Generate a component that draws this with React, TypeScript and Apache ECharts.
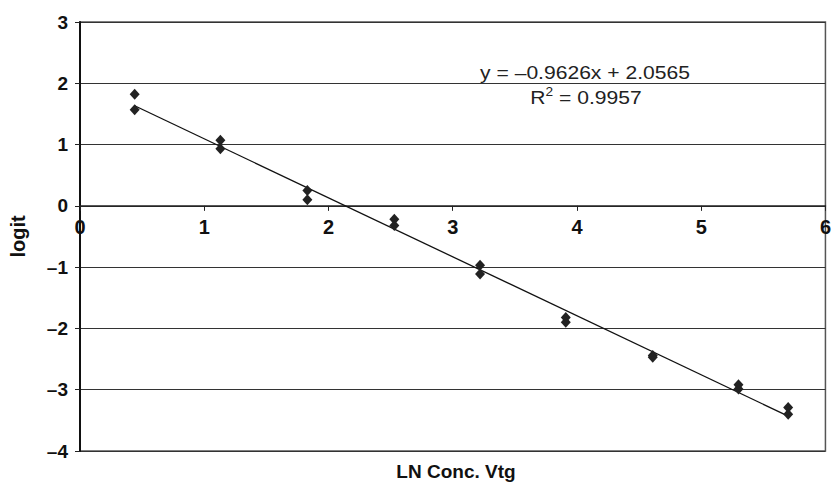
import React, { useEffect, useRef } from "react";
import * as echarts from "echarts";

const lnConc = [0.44, 1.13, 1.83, 2.53, 3.22, 3.91, 4.61, 5.3, 5.7];
const logitA = [1.82, 1.07, 0.25, -0.22, -0.97, -1.82, -2.44, -2.92, -3.29];
const logitB = [1.57, 0.93, 0.1, -0.32, -1.11, -1.9, -2.47, -2.99, -3.4];
const slope = -0.9626;
const intercept = 2.0565;
const eqLine1 = "y = –0.9626x + 2.0565";
const eqLine2 = "R{sup|2} = 0.9957";
const xName = "LN Conc. Vtg";
const yName = "logit";
const yMin = -4;
const yMax = 3;

const FONT = "'Liberation Sans', Arial, Helvetica, sans-serif";

export default function App() {
  const ref = useRef<HTMLDivElement>(null);
  useEffect(() => {
    if (!ref.current) return;
    const chart = echarts.init(ref.current, null, { renderer: "svg" });
    const points: number[][] = [];
    lnConc.forEach((x, i) => {
      points.push([x, logitA[i]]);
      points.push([x, logitB[i]]);
    });
    const xMin = Math.min(...lnConc);
    const xMax = Math.max(...lnConc);
    const trend = [
      [xMin, slope * xMin + intercept],
      [xMax, slope * xMax + intercept],
    ];
    const fmt = (v: number) => (v < 0 ? "–" + Math.abs(v) : String(v));
    chart.setOption({
      animation: false,
      backgroundColor: "#ffffff",
      textStyle: { fontFamily: FONT },
      grid: {
        left: 80,
        right: 2,
        top: 22,
        bottom: 32,
        show: true,
        borderColor: "#555",
        borderWidth: 1.5,
      },
      xAxis: {
        type: "value",
        min: 0,
        max: 6,
        interval: 1,
        axisLine: { show: true, onZero: false, lineStyle: { color: "#222", width: 1.5 } },
        axisTick: { show: true, length: 5, lineStyle: { color: "#222" } },
        axisLabel: {
          margin: 11,
          fontSize: 20,
          fontWeight: "bold",
          color: "#111",
          fontFamily: FONT,
          showMinLabel: true,
          showMaxLabel: true,
          formatter: fmt,
        },
        splitLine: { show: false },
      },
      yAxis: {
        type: "value",
        min: yMin,
        max: yMax,
        interval: 1,
        name: yName,
        nameLocation: "middle",
        nameGap: 52,
        nameTextStyle: { fontSize: 20, fontWeight: "bold", color: "#111", fontFamily: FONT },
        axisLine: { show: true, onZero: false, lineStyle: { color: "#111", width: 2 } },
        axisTick: { show: true, length: 5, lineStyle: { color: "#222" } },
        axisLabel: {
          margin: 12,
          fontSize: 19,
          fontWeight: "bold",
          color: "#111",
          fontFamily: FONT,
          formatter: fmt,
        },
        splitLine: { show: true, lineStyle: { color: "#333", width: 1 } },
      },
      graphic: [
        {
          type: "text",
          x: 456,
          y: 471,
          style: {
            text: xName,
            font: `bold 19px ${FONT}`,
            fill: "#111",
            align: "center",
            verticalAlign: "middle",
          },
        },
        {
          type: "text",
          x: 585,
          y: 72,
          scaleX: 1.14,
          style: {
            text: eqLine1,
            font: `18.5px ${FONT}`,
            fill: "#222",
            align: "center",
            verticalAlign: "middle",
          },
        },
        {
          type: "text",
          x: 586,
          y: 97,
          scaleX: 1.14,
          style: {
            text: eqLine2,
            font: `18.5px ${FONT}`,
            fill: "#222",
            align: "center",
            verticalAlign: "middle",
            rich: {
              sup: { fontSize: 12, fontFamily: FONT, padding: [0, 0, 10, 0], fill: "#222" },
            },
          },
        },
      ],
      series: [
        {
          type: "line",
          data: trend,
          symbol: "none",
          lineStyle: { color: "#111", width: 1.3 },
          z: 2,
          silent: true,
        },
        {
          type: "scatter",
          data: points,
          symbol: "diamond",
          symbolSize: [10, 11],
          itemStyle: { color: "#222", opacity: 1 },
          z: 3,
        },
      ],
    });
    // Move the x axis (line, ticks, labels) up so it crosses the y axis at 0.
    const yZero = chart.convertToPixel({ yAxisIndex: 0 }, 0) as number;
    const yBottom = chart.convertToPixel({ yAxisIndex: 0 }, yMin) as number;
    chart.setOption({ xAxis: { offset: -(yBottom - yZero) } });
    return () => chart.dispose();
  }, []);
  return (
    <div
      ref={ref}
      style={{ position: "absolute", left: 0, top: 0, width: 834, height: 483 }}
    />
  );
}
